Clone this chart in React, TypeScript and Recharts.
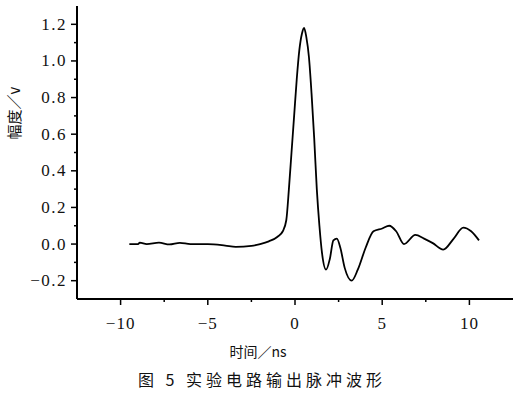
import { LineChart, Line, XAxis, YAxis } from 'recharts';

const timeNs = [
  -9.5, -9.0, -8.9, -8.5, -7.8, -7.2, -6.6, -6.0, -5.0, -4.0, -3.4, -2.5, -2.0, -1.5, -1.0, -0.7,
  -0.5, -0.35, -0.2, -0.05, 0.1, 0.25, 0.4, 0.52, 0.65, 0.8, 0.95, 1.1, 1.25, 1.4, 1.55, 1.78,
  2.0, 2.2, 2.4, 2.6, 2.85, 3.25, 3.6, 4.05, 4.5, 5.0, 5.4, 5.8, 6.25, 6.9, 7.4, 7.9, 8.5, 9.1,
  9.65, 10.1, 10.55,
];
const amplitude = [
  0, 0, 0.008, 0, 0.008, -0.002, 0.007, 0, 0, -0.008, -0.015, -0.01, 0, 0.015, 0.04, 0.07,
  0.13, 0.3, 0.5, 0.7, 0.9, 1.06, 1.15, 1.18, 1.13, 1.02, 0.82, 0.58, 0.3, 0.1, -0.05, -0.14,
  -0.08, 0.02, 0.03, -0.02, -0.13, -0.2, -0.14, -0.02, 0.07, 0.085, 0.1, 0.07, 0.0, 0.05, 0.03, 0.005, -0.03, 0.03,
  0.09, 0.07, 0.02,
];

const xTicks = [-10, -7.5, -5, -2.5, 0, 2.5, 5, 7.5, 10];
const xMajor = [-10, -5, 0, 5, 10];
const yTicks = [-0.2, -0.1, 0, 0.1, 0.2, 0.3, 0.4, 0.5, 0.6, 0.7, 0.8, 0.9, 1.0, 1.1, 1.2];
const yMajor = [-0.2, 0, 0.2, 0.4, 0.6, 0.8, 1.0, 1.2];

const data = timeNs.map((t, i) => ({ t, v: amplitude[i] }));

const serif = "'Times New Roman', 'Liberation Serif', Tinos, 'DejaVu Serif', serif";
const cjk = "'Noto Sans CJK SC', sans-serif";
const fmt = (n: number, d: number) => (n < 0 ? '\u2212' : '') + Math.abs(n).toFixed(d);

const YTick = (props: any) => {
  const { x, y, payload } = props;
  const v = payload.value as number;
  const major = yMajor.some((m) => Math.abs(m - v) < 1e-6);
  return (
    <g>
      <line x1={x} x2={x - (major ? 6 : 3)} y1={y} y2={y} stroke="#000" strokeWidth={1.5} />
      {major && (
        <text
          x={x - 10}
          y={y}
          textAnchor="end"
          dominantBaseline="central"
          fontFamily={serif}
          fontSize={17}
          letterSpacing={1.5}
          fill="#111"
        >
          {fmt(v, 1)}
        </text>
      )}
    </g>
  );
};

const XTick = (props: any) => {
  const { x, y, payload } = props;
  const v = payload.value as number;
  const major = xMajor.includes(v);
  return (
    <g>
      <line x1={x} x2={x} y1={y} y2={y + (major ? 6 : 3)} stroke="#000" strokeWidth={1.5} />
      {major && (
        <text
          x={x}
          y={y + 24}
          textAnchor="middle"
          dominantBaseline="central"
          fontFamily={serif}
          fontSize={17}
          letterSpacing={1}
          fill="#111"
        >
          {fmt(v, 0)}
        </text>
      )}
    </g>
  );
};

export default function App() {
  return (
    <div style={{ position: 'absolute', left: 0, top: 0, width: 520, height: 394, background: '#fff', fontFamily: serif }}>
      <LineChart width={520} height={394} data={data} margin={{ top: 6, right: 7, bottom: 0, left: 0 }}>
        <XAxis
          dataKey="t"
          type="number"
          domain={[-12.5, 12.5]}
          ticks={xTicks}
          interval={0}
          height={95}
          tickSize={0}
          tickMargin={0}
          tickLine={false}
          tick={<XTick />}
          axisLine={{ stroke: '#000', strokeWidth: 2 }}
        />
        <YAxis
          type="number"
          domain={[-0.3, 1.3]}
          ticks={yTicks}
          interval={0}
          width={77}
          tickSize={0}
          tickMargin={0}
          tickLine={false}
          tick={<YTick />}
          axisLine={{ stroke: '#000', strokeWidth: 2 }}
        />
        <Line
          type="monotone"
          dataKey="v"
          stroke="#000"
          strokeWidth={1.8}
          dot={false}
          isAnimationActive={false}
        />
      </LineChart>
      <div
        style={{
          position: 'absolute',
          left: 13,
          top: 113,
          transform: 'translate(-50%, -50%) rotate(-90deg)',
          fontFamily: cjk,
          fontSize: 15,
          whiteSpace: 'nowrap',
          color: '#111',
        }}
      >
        幅度／v
      </div>
      <div
        style={{
          position: 'absolute',
          left: 258,
          top: 351,
          transform: 'translate(-50%, -50%)',
          fontFamily: cjk,
          fontSize: 14,
          whiteSpace: 'nowrap',
          color: '#111',
        }}
      >
        时间／ns
      </div>
      <div
        style={{
          position: 'absolute',
          left: 262,
          top: 379,
          transform: 'translate(-50%, -50%)',
          fontFamily: cjk,
          fontSize: 16,
          letterSpacing: 4,
          whiteSpace: 'nowrap',
          color: '#111',
        }}
      >
        图 5 实验电路输出脉冲波形
      </div>
    </div>
  );
}
